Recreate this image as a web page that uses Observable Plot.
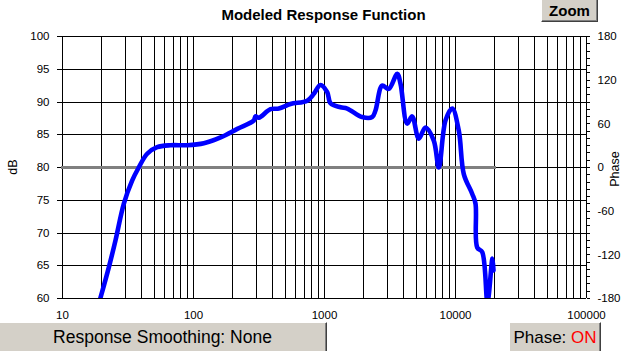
<!DOCTYPE html>
<html><head><meta charset="utf-8">
<script src="https://cdn.jsdelivr.net/npm/d3@7"></script>
<script src="https://cdn.jsdelivr.net/npm/@observablehq/plot@0.6"></script>
<style>
body{margin:0;background:#fff;font-family:Arial,"Liberation Sans",sans-serif;}
#wrap{position:relative;width:626px;height:351px;overflow:hidden;background:#fff;}
#chart{position:absolute;left:0;top:0;}
.title{position:absolute;left:0;width:647px;top:6px;text-align:center;font-weight:bold;font-size:15px;color:#000;}
.btn{position:absolute;background:#d4d0c8;border-top:1px solid #fff;border-left:1px solid #fff;border-right:1px solid #404040;border-bottom:1px solid #404040;box-shadow:inset -1px -1px 0 #808080;box-sizing:border-box;display:flex;align-items:center;justify-content:center;color:#000;}
.ylab{position:absolute;font-size:12.5px;color:#000;transform:translate(-50%,-50%) rotate(-90deg);white-space:nowrap;}
</style></head><body>
<div id="wrap">
<div id="chart"></div>
<div class="title">Modeled Response Function</div>
<div class="btn" style="left:541px;top:-2px;width:57px;height:24px;font-weight:bold;font-size:15px;">Zoom</div>
<div class="btn" style="left:-2px;top:322px;width:329px;height:31px;font-size:17.5px;">Response Smoothing: None</div>
<div class="btn" style="left:509px;top:322px;width:92px;height:31px;font-size:17px;">Phase:&nbsp;<span style="color:#ff0000">ON</span></div>
<div class="ylab" style="left:12.5px;top:167px;">dB</div>
<div class="ylab" style="left:615px;top:169px;">Phase</div>
</div>
<script>
// Response curve (Hz, dB)
const freq = [19.3, 22.6, 25.4, 29.4, 34.0, 38.2, 44.3, 52.8, 66.7, 89.5, 120, 161, 216, 289, 297, 315, 387, 448, 550, 738, 829, 931, 1049, 1112, 1326, 1490, 1940, 2313, 2450, 2754, 3096, 3590, 3802, 4276, 4669, 5245, 5902, 6827, 7459, 8394, 9444, 10600, 11570, 13400, 14210, 14640, 15990, 17540, 19140, 19500];
const spl = [59.8, 64.8, 68.9, 74.5, 78.0, 80.0, 82.1, 83.1, 83.4, 83.4, 83.7, 84.6, 85.9, 87.2, 87.8, 87.6, 88.9, 89.0, 89.7, 90.2, 91.25, 92.6, 91.5, 89.8, 89.2, 89.0, 87.7, 87.7, 88.7, 92.5, 92.0, 94.3, 92.8, 86.7, 87.8, 84.4, 86.1, 84.1, 80.0, 87.2, 89.0, 85.6, 79.0, 76.0, 74.5, 67.8, 67.1, 59.5, 66.1, 64.3];
// Phase curve (Hz, degrees)
const phaseFreq = [10, 20000];
const phaseDeg = [0, 0];
// Ticks
const dbTicks = [60, 65, 70, 75, 80, 85, 90, 95, 100];
const decadeTicks = [10, 100, 1000, 10000, 100000];
const gridFreqs = [10,20,30,40,50,60,70,80,90,100,200,300,400,500,600,700,800,900,1000,2000,3000,4000,5000,6000,7000,8000,9000,10000,20000,30000,40000,50000,60000,70000,80000,90000,100000];
const phaseMajor = [-180, -120, -60, 0, 60, 120, 180];
const phaseMinor = [-180,-170,-160,-150,-140,-130,-120,-110,-100,-90,-80,-70,-60,-50,-40,-30,-20,-10,0,10,20,30,40,50,60,70,80,90,100,110,120,130,140,150,160,170,180];

// phase axis maps linearly onto the dB axis: -180..180 -> 60..100
const ph2db = p => 80 + p / 9;
const db2ph = d => Math.round((d - 80) * 9);

const response = freq.map((f, i) => ({f, v: spl[i]}));
const phase = phaseFreq.map((f, i) => ({f, v: ph2db(phaseDeg[i])}));

const crisp = {shapeRendering: "crispEdges"};
const chart = Plot.plot({
  width: 626, height: 351,
  marginTop: 36, marginBottom: 53, marginLeft: 62, marginRight: 40,
  x: {type: "log", domain: [10, 100000]},
  y: {domain: [60, 100]},
  style: {fontFamily: "Arial, 'Liberation Sans', sans-serif", fontSize: "11.5px", color: "#000", background: "transparent", overflow: "visible"},
  marks: [
    Plot.ruleX(gridFreqs, {x: d => d, y1: 60, y2: 100, stroke: "#000", strokeWidth: 1, ...crisp}),
    Plot.ruleY(dbTicks, {y: d => d, x1: 10, x2: 100000, stroke: "#000", strokeWidth: 1, ...crisp}),
    Plot.axisY(dbTicks, {anchor: "left", tickSize: 5, tickPadding: 8, tickFormat: d => String(d), label: null, stroke: "#000", strokeOpacity: 1, ...crisp}),
    Plot.axisX(decadeTicks, {anchor: "bottom", tickSize: 0, tickPadding: 12, tickFormat: d => String(d), label: null}),
    Plot.axisY(phaseMinor.map(ph2db), {anchor: "right", tickSize: 3, tickFormat: () => "", label: null, stroke: "#000", strokeOpacity: 1, ...crisp}),
    Plot.axisY(phaseMajor.map(ph2db), {anchor: "right", tickSize: 3, tickPadding: 8, tickFormat: d => String(db2ph(d)), label: null, stroke: "#000", strokeOpacity: 1, ...crisp}),
    Plot.line(phase, {x: "f", y: "v", stroke: "#808080", strokeWidth: 3, ...crisp}),
    Plot.line(response, {x: "f", y: "v", stroke: "#0000ff", strokeWidth: 4.6, curve: "catmull-rom", strokeLinejoin: "round", strokeLinecap: "round", clip: true})
  ]
});
document.getElementById("chart").appendChild(chart);
</script>
</body></html>
